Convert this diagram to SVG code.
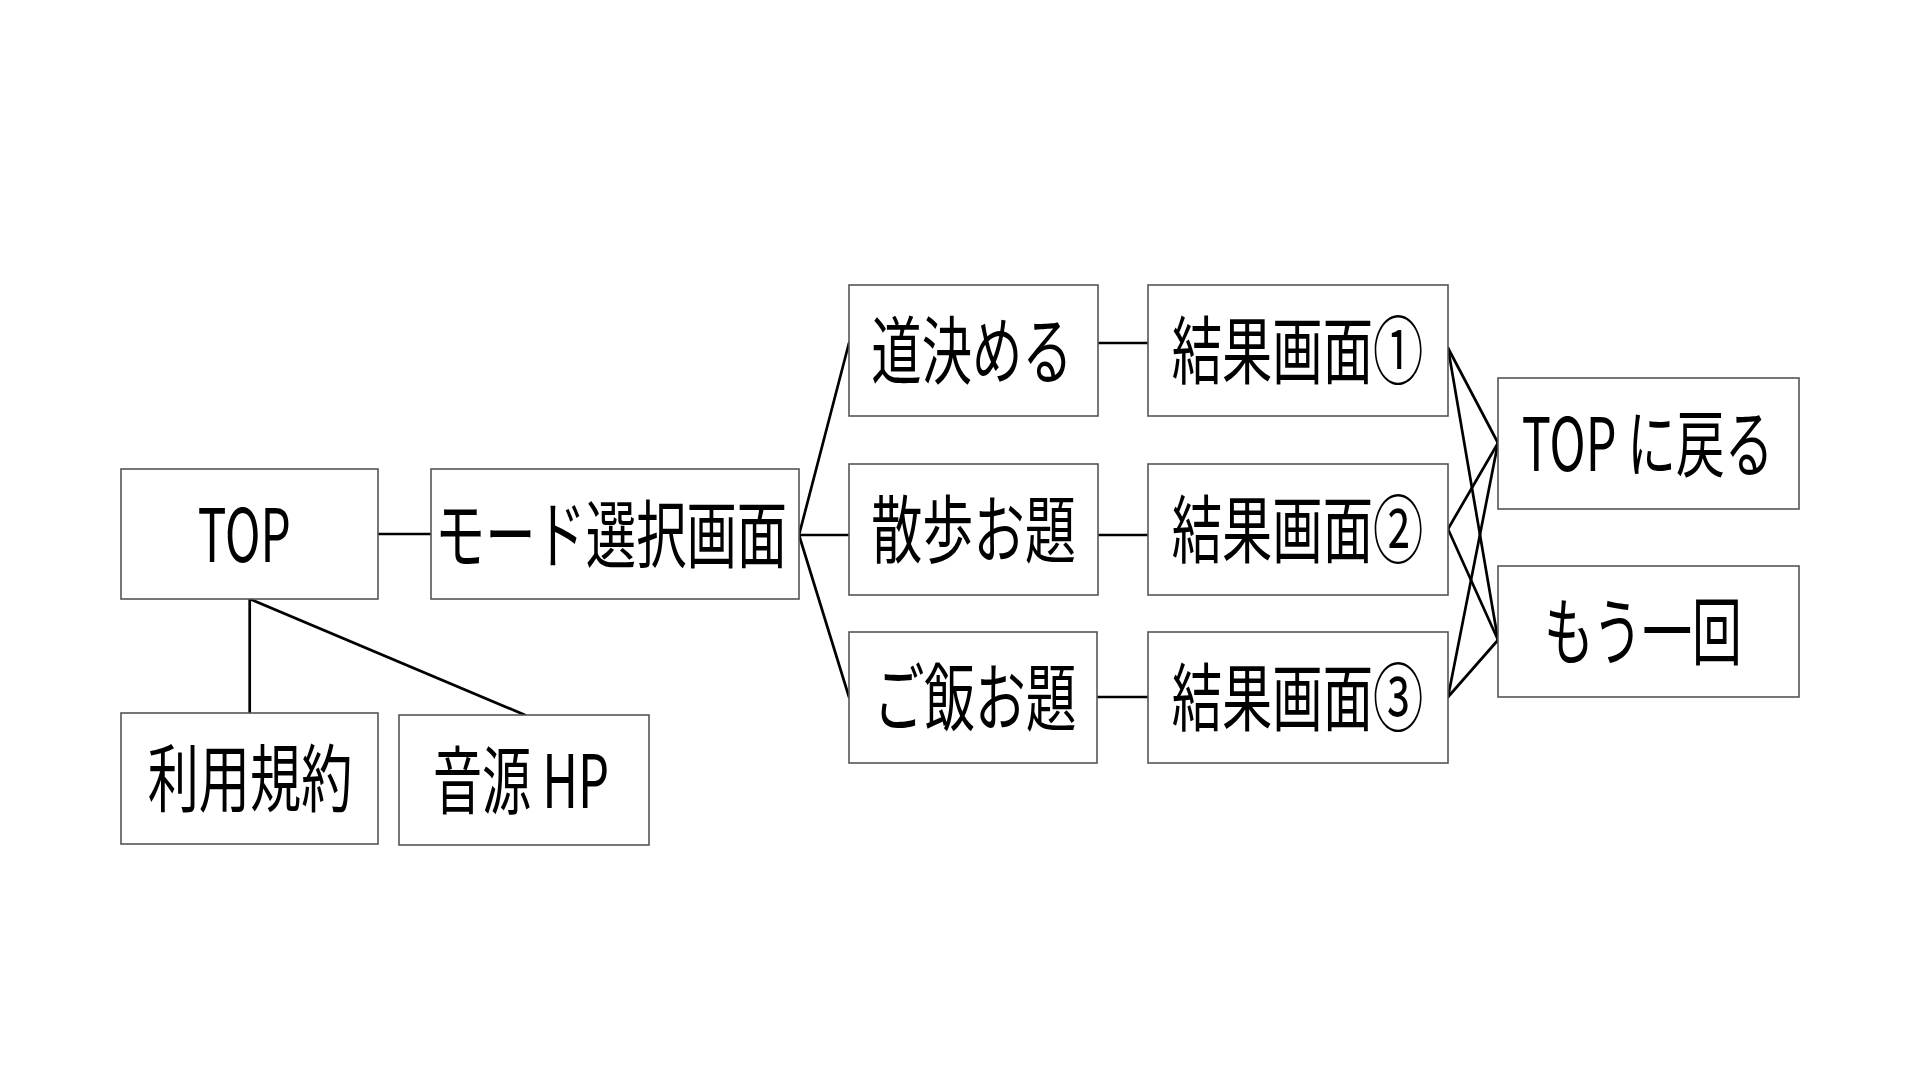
<svg xmlns="http://www.w3.org/2000/svg" width="1920" height="1080" viewBox="0 0 1920 1080">
<style>
.box{fill:#fff;stroke:#555;stroke-width:1.6}
.lbl{font-family:"Noto Sans CJK JP","Noto Sans",sans-serif;font-size:74px;fill:#000;text-anchor:middle}
.con line{stroke:#000;stroke-width:2.7;stroke-linecap:round}
</style>
<rect width="1920" height="1080" fill="#fff"/>
<g class="con" id="connectors">
<line x1="378" y1="534" x2="431" y2="534"/>
<line x1="249.7" y1="599" x2="249.7" y2="713"/>
<line x1="249.7" y1="599" x2="525" y2="715"/>
<line x1="799" y1="535" x2="849" y2="343"/>
<line x1="799" y1="535" x2="849" y2="535"/>
<line x1="799" y1="535" x2="849" y2="697"/>
<line x1="1098" y1="343" x2="1148" y2="343"/>
<line x1="1098" y1="535" x2="1148" y2="535"/>
<line x1="1097" y1="697" x2="1148" y2="697"/>
<line x1="1448" y1="348" x2="1498" y2="443"/>
<line x1="1448" y1="348" x2="1498" y2="640"/>
<line x1="1448" y1="529" x2="1498" y2="443"/>
<line x1="1448" y1="529" x2="1498" y2="640"/>
<line x1="1448" y1="697" x2="1498" y2="443"/>
<line x1="1448" y1="697" x2="1498" y2="640"/>
</g>
<g id="top"><rect class="box" x="121" y="469" width="257" height="130"/><text class="lbl" transform="translate(244.3 562) scale(0.68 1)" textLength="137" lengthAdjust="spacingAndGlyphs">TOP</text></g>
<g id="mode"><rect class="box" x="431" y="469" width="368" height="130"/><text class="lbl" transform="translate(611 562) scale(0.68 1)" textLength="518" lengthAdjust="spacingAndGlyphs">モード選択画面</text></g>
<g id="terms"><rect class="box" x="121" y="713" width="257" height="131"/><text class="lbl" transform="translate(250 806) scale(0.68 1)" textLength="301" lengthAdjust="spacingAndGlyphs">利用規約</text></g>
<g id="sound"><rect class="box" x="399" y="715" width="250" height="130"/><text class="lbl" transform="translate(521 808) scale(0.68 1)" textLength="259" lengthAdjust="spacingAndGlyphs">音源 HP</text></g>
<g id="road"><rect class="box" x="849" y="285" width="249" height="131"/><text class="lbl" transform="translate(972 378) scale(0.68 1)" textLength="296" lengthAdjust="spacingAndGlyphs">道決める</text></g>
<g id="walk"><rect class="box" x="849" y="464" width="249" height="131"/><text class="lbl" transform="translate(973.5 557) scale(0.68 1)" textLength="301" lengthAdjust="spacingAndGlyphs">散歩お題</text></g>
<g id="meal"><rect class="box" x="849" y="632" width="248" height="131"/><text class="lbl" transform="translate(975 725) scale(0.68 1)" textLength="298" lengthAdjust="spacingAndGlyphs">ご飯お題</text></g>
<g id="result1"><rect class="box" x="1148" y="285" width="300" height="131"/><text class="lbl" transform="translate(1297.5 378) scale(0.68 1)" textLength="370" lengthAdjust="spacingAndGlyphs">結果画面①</text></g>
<g id="result2"><rect class="box" x="1148" y="464" width="300" height="131"/><text class="lbl" transform="translate(1297.5 557) scale(0.68 1)" textLength="370" lengthAdjust="spacingAndGlyphs">結果画面②</text></g>
<g id="result3"><rect class="box" x="1148" y="632" width="300" height="131"/><text class="lbl" transform="translate(1297.5 725) scale(0.68 1)" textLength="370" lengthAdjust="spacingAndGlyphs">結果画面③</text></g>
<g id="backtop"><rect class="box" x="1498" y="378" width="301" height="131"/><text class="lbl" transform="translate(1647.5 471) scale(0.68 1)" textLength="370" lengthAdjust="spacingAndGlyphs">TOP に戻る</text></g>
<g id="again"><rect class="box" x="1498" y="566" width="301" height="131"/><text class="lbl" transform="translate(1643 659) scale(0.68 1)" textLength="291" lengthAdjust="spacingAndGlyphs">もう一回</text></g>
</svg>
